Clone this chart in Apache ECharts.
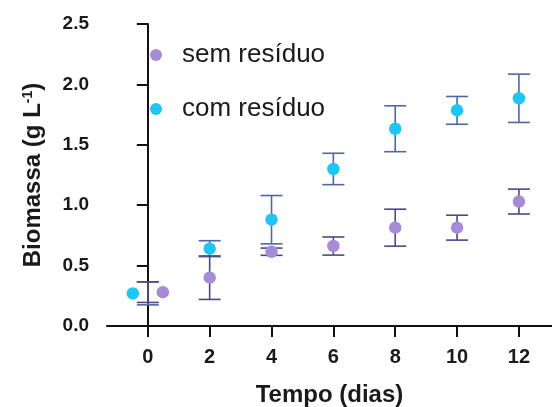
<!DOCTYPE html>
<html>
<head>
<meta charset="utf-8">
<script src="https://cdn.jsdelivr.net/npm/echarts@6/dist/echarts.min.js"></script>
<style>html,body{margin:0;padding:0;background:#fff}#c{width:552px;height:407px}</style>
</head>
<body>
<div id="c"></div>
<script>
// ---- data ----
const days = [0, 2, 4, 6, 8, 10, 12];
const xTicks = [0, 2, 4, 6, 8, 10, 12];
const yTicks = [0, 0.5, 1.0, 1.5, 2.0, 2.5];
const semName = 'sem resíduo';
const comName = 'com resíduo';
const semMean = [0.28, 0.40, 0.615, 0.662, 0.814, 0.814, 1.03];
const semErr  = [0.085, 0.18, 0.03, 0.075, 0.153, 0.103, 0.103];
const comMean = [0.27, 0.64, 0.88, 1.30, 1.633, 1.785, 1.885];
const comErr  = [0.095, 0.066, 0.20, 0.13, 0.19, 0.115, 0.20];

// ---- styles ----
const FONT = 'Liberation Sans, Arial, sans-serif';
const C_SEM = '#a68bd6';
const C_COM = '#1fc6f4';
const E_SEM = '#4b4a80';
const E_COM = '#4f67a3';
const DAY0_SHIFT = 15; // px dodge for overlapping points at day 0

function errData(mean, err) {
  return days.map((d, i) => [d, mean[i] - err[i], mean[i] + err[i]]);
}
function ptData(mean, dir) {
  return days.map((d, i) => {
    const item = { value: [d, mean[i]] };
    if (d === 0) item.symbolOffset = [dir * DAY0_SHIFT, 0];
    return item;
  });
}
function errRender(color) {
  return function (params, api) {
    const x = api.value(0);
    const lo = api.coord([x, api.value(1)]);
    const hi = api.coord([x, api.value(2)]);
    const hw = 11;
    const st = { stroke: color, lineWidth: 1.6 };
    return {
      type: 'group',
      children: [
        { type: 'line', shape: { x1: lo[0], y1: lo[1], x2: hi[0], y2: hi[1] }, style: st },
        { type: 'line', shape: { x1: hi[0] - hw, y1: hi[1], x2: hi[0] + hw, y2: hi[1] }, style: st },
        { type: 'line', shape: { x1: lo[0] - hw, y1: lo[1], x2: lo[0] + hw, y2: lo[1] }, style: st }
      ]
    };
  };
}

const chart = echarts.init(document.getElementById('c'), null, { renderer: 'canvas' });
chart.setOption({
  animation: false,
  backgroundColor: '#fff',
  grid: { left: 107, right: 0, top: 24, bottom: 81, containLabel: false, outerBoundsMode: 'none' },
  legend: {
    orient: 'vertical',
    left: 145, top: 37,
    itemWidth: 12, itemHeight: 12, itemGap: 28,
    icon: 'circle',
    data: [semName, comName],
    textStyle: { fontFamily: FONT, fontSize: 26, color: '#1a1a1a', padding: [0, 0, 0, 15] }
  },
  xAxis: {
    type: 'value', min: -1.32, max: 13.07,
    name: 'Tempo (dias)', nameLocation: 'middle', nameGap: 57,
    nameTextStyle: { fontFamily: FONT, fontSize: 24, fontWeight: 'bold', color: '#1a1a1a' },
    axisLine: { show: true, lineStyle: { color: '#111', width: 2 } },
    axisTick: { show: true, length: 11, customValues: xTicks, lineStyle: { color: '#111', width: 2 } },
    axisLabel: { customValues: xTicks, margin: 21, fontFamily: FONT, fontSize: 20, fontWeight: 'bold', color: '#1a1a1a' },
    splitLine: { show: false }
  },
  yAxis: {
    type: 'value', min: 0, max: 2.5, interval: 0.5,
    name: 'Biomassa (g L{sup|-1})', nameLocation: 'middle', nameGap: 62, nameRotate: 90,
    nameTextStyle: {
      fontFamily: FONT, fontSize: 24, fontWeight: 'bold', color: '#1a1a1a',
      rich: { sup: { fontFamily: FONT, fontSize: 14, fontWeight: 'bold', color: '#1a1a1a', verticalAlign: 'top', padding: [0, 0, 10, 0] } }
    },
    axisLine: { show: true, lineStyle: { color: '#111', width: 2 } },
    axisTick: { show: true, length: 11, customValues: yTicks, lineStyle: { color: '#111', width: 2 } },
    axisLabel: { customValues: yTicks, margin: 18, fontFamily: FONT, fontSize: 19, fontWeight: 'bold', color: '#1a1a1a',
      formatter: v => v.toFixed(1) },
    splitLine: { show: false }
  },
  series: [
    { type: 'custom', name: comName + ' err', data: errData(comMean, comErr), renderItem: errRender(E_COM),
      encode: { x: 0, y: [1, 2] }, z: 1, silent: true },
    { type: 'custom', name: semName + ' err', data: errData(semMean, semErr), renderItem: errRender(E_SEM),
      encode: { x: 0, y: [1, 2] }, z: 1, silent: true },
    { type: 'scatter', name: semName, data: ptData(semMean, 1), symbol: 'circle', symbolSize: 12.5,
      itemStyle: { color: C_SEM, opacity: 1 }, z: 3 },
    { type: 'scatter', name: comName, data: ptData(comMean, -1), symbol: 'circle', symbolSize: 12.5,
      itemStyle: { color: C_COM, opacity: 1 }, z: 3 }
  ]
});
</script>
</body>
</html>
